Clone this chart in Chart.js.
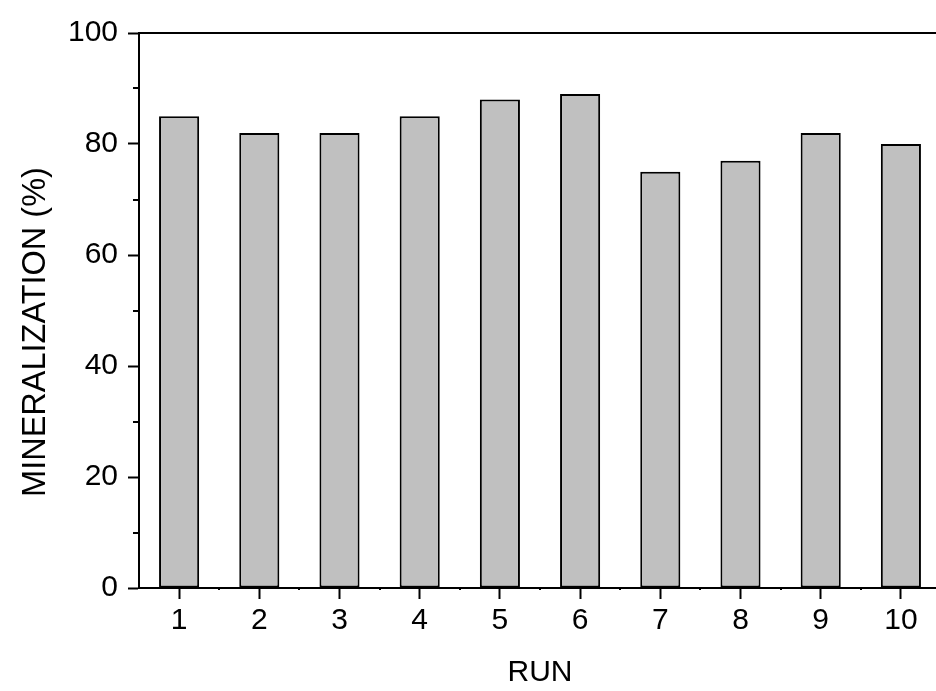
<!DOCTYPE html>
<html>
<head>
<meta charset="utf-8">
<script src="https://cdn.jsdelivr.net/npm/chart.js@4"></script>
<style>
  html, body { margin: 0; padding: 0; overflow: hidden; background: #fff; }
  #wrap { width: 946px; height: 691px; }
</style>
</head>
<body>
<div id="wrap"><canvas id="chart"></canvas></div>
<script>
const runs = ["1", "2", "3", "4", "5", "6", "7", "8", "9", "10"];
const mineralization = [85, 82, 82, 85, 88, 89, 75, 77, 82, 80];
const yTicks = [0, 20, 40, 60, 80, 100];
const yTitle = "MINERALIZATION (%)";

// minor ticks (y every 10, x at category boundaries) + y title
const extras = {
  id: 'extras',
  afterDraw(chart) {
    const ctx = chart.ctx;
    const y = chart.scales.y, x = chart.scales.x;
    ctx.save();
    ctx.strokeStyle = '#000';
    ctx.lineWidth = 2;
    ctx.beginPath();
    for (let v = 10; v < 100; v += 20) {
      const py = Math.round(y.getPixelForValue(v));
      ctx.moveTo(x.left - 6, py);
      ctx.lineTo(x.left, py);
    }
    for (let i = 0; i < runs.length; i++) {
      const px = Math.round((x.getPixelForValue(i) + x.getPixelForValue(i + 1)) / 2);
      ctx.moveTo(px, y.bottom);
      ctx.lineTo(px, y.bottom + 2);
    }
    ctx.stroke();

    ctx.translate(45, 332);
    ctx.rotate(-Math.PI / 2);
    ctx.fillStyle = '#000';
    ctx.font = '32.5px "Liberation Sans"';
    ctx.textAlign = 'center';
    ctx.textBaseline = 'alphabetic';
    ctx.fillText(yTitle, 0, 0);
    ctx.restore();
  }
};

new Chart(document.getElementById('chart').getContext('2d'), {
  type: 'bar',
  data: {
    labels: runs,
    datasets: [{
      data: mineralization,
      backgroundColor: '#c0c0c0',
      borderColor: '#000',
      borderWidth: 2,
      borderSkipped: false,
      barPercentage: 0.5,
      categoryPercentage: 1
    }]
  },
  options: {
    responsive: true,
    maintainAspectRatio: false,
    animation: false,
    layout: { padding: { left: 10, top: 33, right: 5, bottom: 0 } },
    plugins: { legend: { display: false }, tooltip: { enabled: false } },
    scales: {
      x: {
        offset: true,
        grid: { offset: false, drawOnChartArea: false, drawTicks: true, tickLength: 11, tickColor: '#000', tickWidth: 2 },
        border: { color: '#000', width: 2 },
        ticks: { color: '#000', font: { family: 'Liberation Sans', size: 30 }, padding: 4, maxRotation: 0 },
        title: { display: true, text: 'RUN', color: '#000', font: { family: 'Liberation Sans', size: 30 }, padding: { top: 0, bottom: 0 } },
        afterFit(s) { s.height = 103; }
      },
      x2: {
        position: 'top',
        grid: { display: false },
        ticks: { display: false },
        border: { color: '#000', width: 2 },
        afterFit(s) { s.height = 0; }
      },
      y: {
        min: 0,
        max: 100,
        afterBuildTicks(s) { s.ticks = yTicks.map(v => ({ value: v })); },
        grid: { drawOnChartArea: false, drawTicks: true, tickLength: 11, tickColor: '#000', tickWidth: 2 },
        border: { color: '#000', width: 2 },
        ticks: { color: '#000', font: { family: 'Liberation Sans', size: 30 }, padding: 10 },
        afterFit(s) { s.width = 129; }
      }
    }
  },
  plugins: [extras]
});
</script>
</body>
</html>
